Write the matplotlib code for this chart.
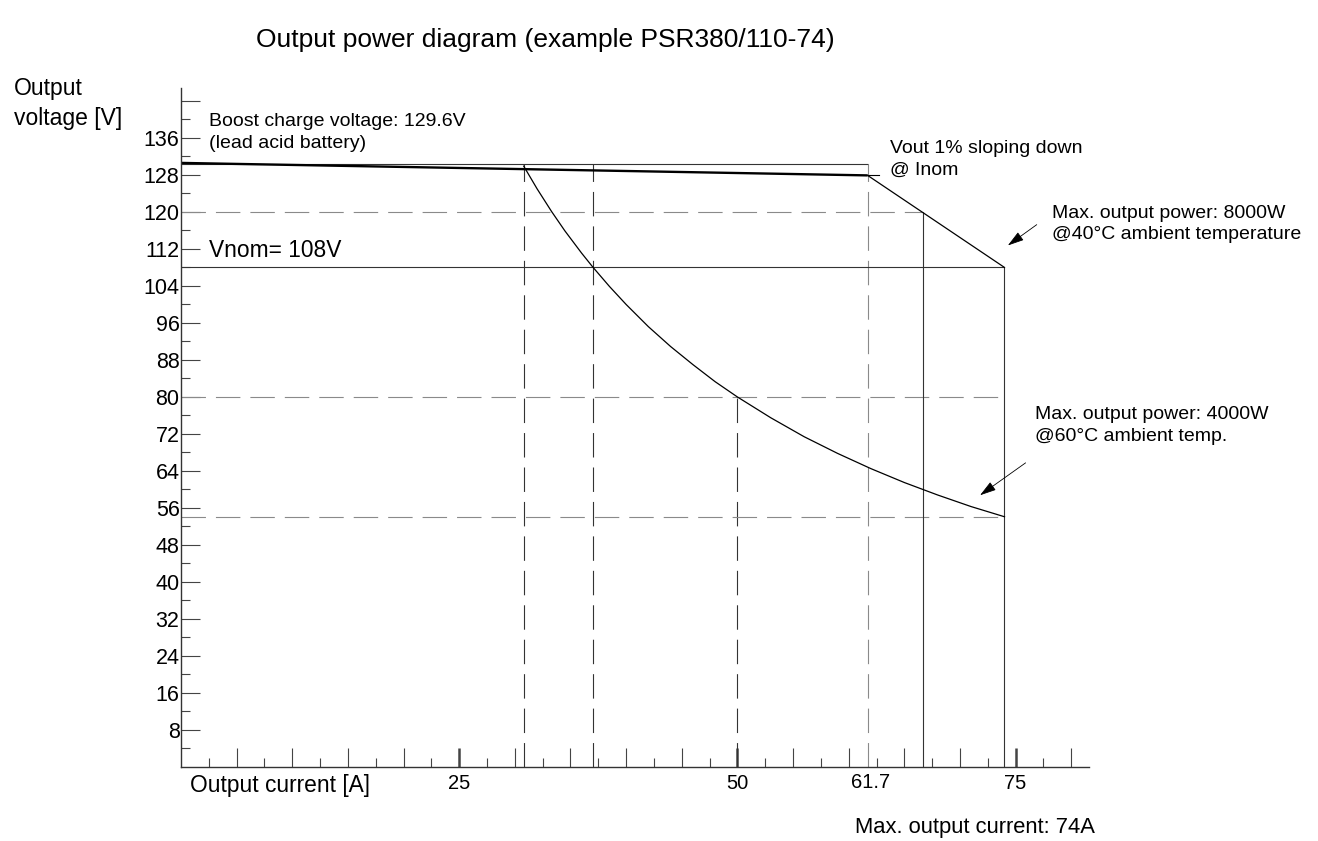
import matplotlib.pyplot as plt

plt.rcParams['font.family'] = ['Liberation Sans', 'DejaVu Sans']

# curve points (4000W @ 60C)
p4000_i = [30.8, 32.0, 33.3, 34.5, 36.0, 37.0, 38.5, 40.0, 42.0, 44.0, 46.0,
           48.0, 50.0, 53.0, 56.0, 59.0, 62.0, 65.0, 68.0, 71.0, 74.0]
p4000_v = [129.9, 125.0, 120.1, 115.9, 111.1, 108.1, 103.9, 100.0, 95.2, 90.9,
           87.0, 83.3, 80.0, 75.5, 71.4, 67.8, 64.5, 61.5, 58.8, 56.3, 54.1]

# sloping output line and 8000W limit
slope_i = [0, 61.7]
slope_v = [130.6, 127.9]
p8000_i = [61.7, 74.0]
p8000_v = [127.9, 108.0]

v_boost = 130.4
v_nom = 108
i_nom = 61.7
i_max = 74
i_120 = 66.7

x_major = [5, 10, 15, 20, 25, 30, 35, 40, 45, 50, 55, 60, 65, 70, 75, 80]
x_minor = [2.5, 7.5, 12.5, 17.5, 22.5, 27.5, 32.5, 37.5, 42.5, 47.5, 52.5,
           57.5, 62.5, 67.5, 72.5, 77.5]
x_labels = {25: '25', 50: '50', 75: '75'}
y_major = list(range(8, 145, 8))
y_minor = list(range(4, 145, 8))

fig = plt.figure(figsize=(13.18, 8.41), dpi=100)
ax = fig.add_axes([0.1373, 0.088, 0.689, 0.8074])
ax.set_xlim(0, 81.6)
ax.set_ylim(0, 146.8)

for s in ['top', 'right']:
    ax.spines[s].set_visible(False)
for s in ['left', 'bottom']:
    ax.spines[s].set_color('#333333')
    ax.spines[s].set_linewidth(1)

dash = (0, (22, 9))
gray = '#8a8a8a'
dark = '#333333'

# dashed guide lines
ax.vlines([30.8, 37.0], 0, v_boost, colors=dark, linestyles=dash, lw=0.8)
ax.vlines(50, 0, 80, colors=dark, linestyles=dash, lw=0.8)
ax.vlines(i_nom, 0, v_boost, colors=gray, linestyles=dash, lw=0.8)
ax.hlines(120, 0, i_120, colors=gray, linestyles=dash, lw=0.8)
ax.hlines([80, 54.1], 0, i_max, colors=gray, linestyles=dash, lw=0.8)

# solid guide lines
ax.hlines(v_boost, 0, i_nom, colors=dark, lw=0.8)
ax.hlines(v_nom, 0, i_max, colors=dark, lw=0.8)
ax.vlines(i_120, 0, 120, colors=dark, lw=0.8)
ax.vlines(i_max, 0, v_nom, colors=dark, lw=0.8)

ax.plot(slope_i, slope_v, color='black', lw=1.7, solid_capstyle='butt')
ax.plot([i_nom, 62.7], [127.9, 127.9], color='black', lw=0.8)
ax.plot(p8000_i, p8000_v, color='black', lw=0.9)
ax.plot(p4000_i, p4000_v, color='black', lw=0.9)

# ticks
ax.set_xticks(x_major)
ax.set_xticklabels([x_labels.get(t, '') for t in x_major])
ax.set_xticks(x_minor, minor=True)
ax.set_yticks(y_major)
ax.set_yticklabels([str(t) if t <= 136 else '' for t in y_major])
ax.set_yticks(y_minor, minor=True)
ax.tick_params(axis='both', which='major', direction='in', length=13.5,
               width=0.8, color='#444444')
ax.tick_params(axis='both', which='minor', direction='in', length=6.8,
               width=0.8, color='#444444')
ax.tick_params(axis='y', which='major', pad=1, labelsize=15.5)
ax.tick_params(axis='x', which='major', pad=5, labelsize=14.5)
for t, tl in zip(x_major, ax.xaxis.get_major_ticks()):
    if t in x_labels:
        tl.tick1line.set_markeredgewidth(1.8)
        tl.tick1line.set_color('black')

ax.text(i_nom + 0.3, -3.4, '61.7', fontsize=14.5, ha='center', va='center',
        clip_on=False)
ax.text(0.8, -3.9, 'Output current [A]', fontsize=16.4, ha='left',
        va='center', clip_on=False)

# annotations
ax.text(2.5, 137.1, 'Boost charge voltage: 129.6V\n(lead acid battery)',
        fontsize=14, ha='left', va='center', linespacing=1.37)
ax.text(2.5, 111.7, 'Vnom= 108V', fontsize=16.4, ha='left', va='center')
ax.text(63.7, 131.3, 'Vout 1% sloping down\n@ Inom', fontsize=14,
        ha='left', va='center', linespacing=1.37)
ax.annotate('', xy=(74.1, 112.4), xytext=(77.1, 117.6),
            arrowprops=dict(arrowstyle='-|>,head_length=1.0,head_width=0.3',
                            color='black', lw=0.6))
ax.text(78.3, 117.4, 'Max. output power: 8000W\n@40°C ambient temperature',
        fontsize=14, ha='left', va='center', linespacing=1.37, clip_on=False)
ax.annotate('', xy=(71.6, 58.4), xytext=(76.1, 66.1),
            arrowprops=dict(arrowstyle='-|>,head_length=1.0,head_width=0.3',
                            color='black', lw=0.6))
ax.text(76.7, 73.8, 'Max. output power: 4000W\n@60°C ambient temp.',
        fontsize=14, ha='left', va='center', linespacing=1.37, clip_on=False)

fig.text(0.414, 0.952, 'Output power diagram (example PSR380/110-74)',
         fontsize=19, ha='center', va='center')
fig.text(0.0106, 0.877, 'Output\nvoltage [V]', fontsize=16.5, ha='left',
         va='center', linespacing=1.35)
fig.text(0.649, 0.0155, 'Max. output current: 74A', fontsize=15.8,
         ha='left', va='center')

fig.savefig('out.png', dpi=100)
